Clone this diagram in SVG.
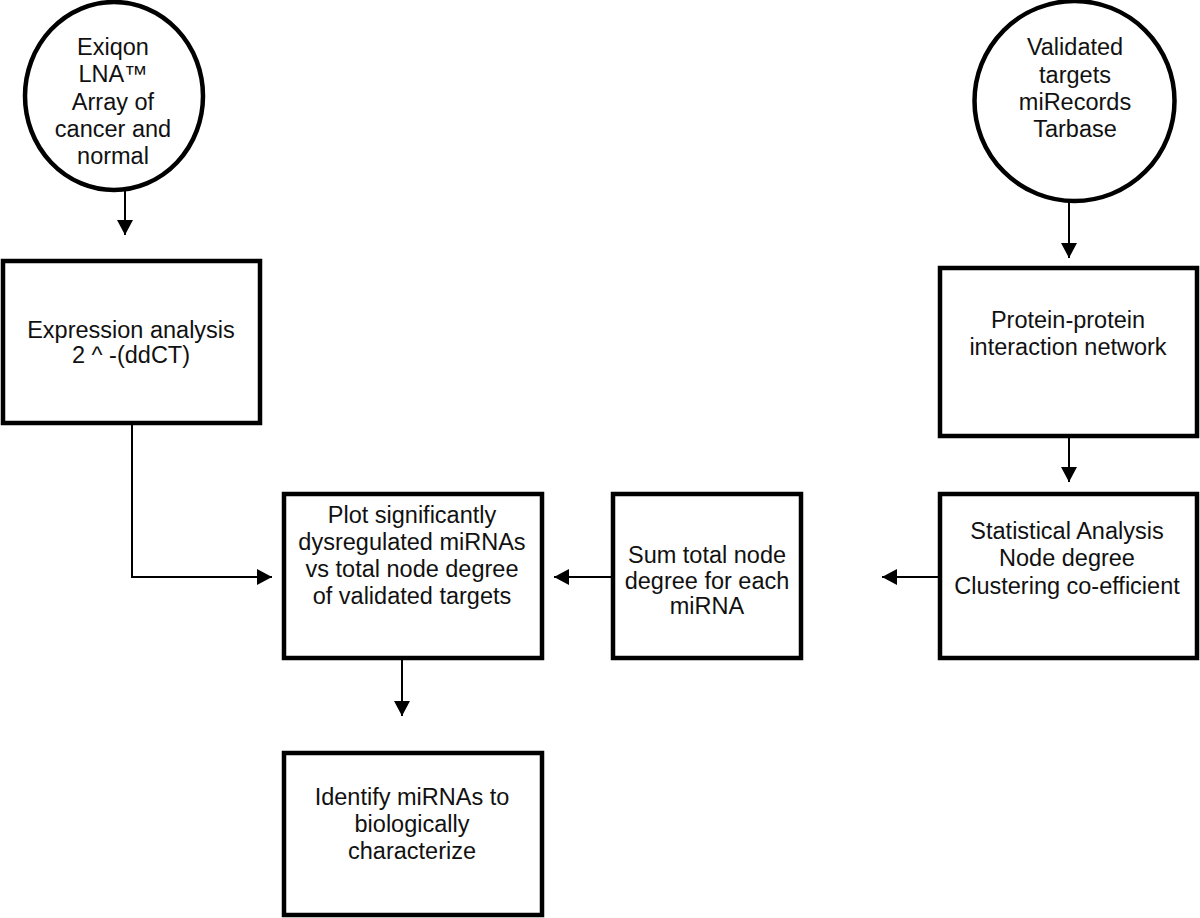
<svg xmlns="http://www.w3.org/2000/svg" width="1200" height="918" viewBox="0 0 1200 918">
<defs>
<style>
.shape{fill:#fff;stroke:#000;stroke-width:4.5}
.lbl{font-family:"Liberation Sans",Arial,sans-serif;font-size:23.5px;fill:#111;text-anchor:middle}
.conn{fill:none;stroke:#000;stroke-width:2}
</style>
<marker id="ah" markerUnits="userSpaceOnUse" markerWidth="16" markerHeight="16" refX="15" refY="8" orient="auto">
<path d="M0,0 L15,8 L0,16 Z" fill="#000"/>
</marker>
</defs>
<rect width="1200" height="918" fill="#fff"/>
<g id="connectors">
<line class="conn" x1="125" y1="191" x2="125" y2="235" marker-end="url(#ah)"/>
<line class="conn" x1="1069" y1="202" x2="1069" y2="258" marker-end="url(#ah)"/>
<path class="conn" d="M132,423 V577 H272" marker-end="url(#ah)"/>
<line class="conn" x1="1069" y1="436" x2="1069" y2="482" marker-end="url(#ah)"/>
<line class="conn" x1="939" y1="577" x2="882" y2="577" marker-end="url(#ah)"/>
<line class="conn" x1="612" y1="577" x2="554" y2="577" marker-end="url(#ah)"/>
<line class="conn" x1="402" y1="658" x2="402" y2="716" marker-end="url(#ah)"/>
</g>
<g id="exiqon">
<ellipse class="shape" cx="114" cy="96" rx="89" ry="94"/>
<text class="lbl" x="113" y="55">Exiqon</text>
<text class="lbl" x="113" y="82">LNA™</text>
<text class="lbl" x="113" y="110">Array of</text>
<text class="lbl" x="113" y="137">cancer and</text>
<text class="lbl" x="113" y="164">normal</text>
</g>
<g id="validated">
<ellipse class="shape" cx="1074.5" cy="101" rx="100" ry="100"/>
<text class="lbl" x="1075" y="55">Validated</text>
<text class="lbl" x="1075" y="83">targets</text>
<text class="lbl" x="1075" y="110">miRecords</text>
<text class="lbl" x="1075" y="137">Tarbase</text>
</g>
<g id="expression">
<rect class="shape" x="3" y="261" width="257" height="162"/>
<text class="lbl" x="131" y="338">Expression analysis</text>
<text class="lbl" x="131" y="363">2 ^ -(ddCT)</text>
</g>
<g id="ppi">
<rect class="shape" x="940" y="268" width="257" height="168"/>
<text class="lbl" x="1068" y="328">Protein-protein</text>
<text class="lbl" x="1068" y="355">interaction network</text>
</g>
<g id="stat">
<rect class="shape" x="940" y="494" width="257" height="164"/>
<text class="lbl" x="1067" y="539">Statistical Analysis</text>
<text class="lbl" x="1067" y="566">Node degree</text>
<text class="lbl" x="1067" y="594">Clustering co-efficient</text>
</g>
<g id="sum">
<rect class="shape" x="613" y="494" width="188" height="164"/>
<text class="lbl" x="707" y="563">Sum total node</text>
<text class="lbl" x="707" y="589">degree for each</text>
<text class="lbl" x="707" y="614">miRNA</text>
</g>
<g id="plot">
<rect class="shape" x="284" y="494" width="258" height="164"/>
<text class="lbl" x="412" y="523">Plot significantly</text>
<text class="lbl" x="412" y="550">dysregulated miRNAs</text>
<text class="lbl" x="412" y="577">vs total node degree</text>
<text class="lbl" x="412" y="604">of validated targets</text>
</g>
<g id="identify">
<rect class="shape" x="284" y="753" width="258" height="162"/>
<text class="lbl" x="412" y="805">Identify miRNAs to</text>
<text class="lbl" x="412" y="832">biologically</text>
<text class="lbl" x="412" y="859">characterize</text>
</g>
</svg>
